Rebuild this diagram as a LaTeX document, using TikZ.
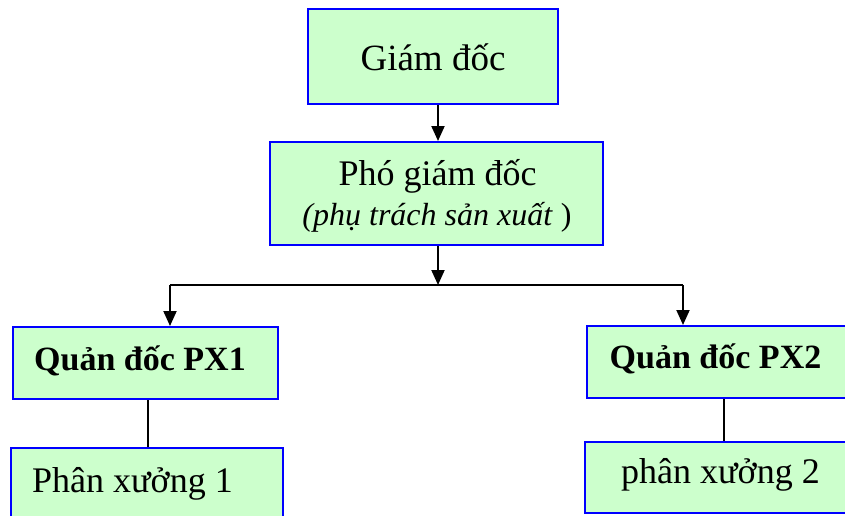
\documentclass[tikz,border=0pt]{standalone}
\usepackage{fontspec}
\setmainfont{Liberation Serif}
\usetikzlibrary{arrows.meta}
\definecolor{boxfill}{HTML}{CCFFCC}
\definecolor{boxline}{HTML}{0000FF}
\begin{document}
\begin{tikzpicture}[x=1pt,y=-1pt,
  orgbox/.style={draw=boxline,fill=boxfill,line width=2pt,rectangle,inner sep=0pt},
  lbl/.style={inner sep=0pt,anchor=base},
  conn/.style={line width=2pt,black},
  arr/.style={conn,-{Triangle[length=15pt,width=13pt]}}]
\useasboundingbox (0,0) rectangle (845,515);
% boxes
\node[orgbox,minimum width=250pt,minimum height=95pt] (gd) at (433,56.5) {};
\node[orgbox,minimum width=333pt,minimum height=103pt] (pgd) at (436.5,193.5) {};
\node[orgbox,minimum width=265pt,minimum height=72pt] (q1) at (145.5,363) {};
\node[orgbox,minimum width=272pt,minimum height=80pt] (px1) at (147,488) {};
\node[orgbox,minimum width=268pt,minimum height=72pt] (q2) at (721,362) {};
\node[orgbox,minimum width=270pt,minimum height=71pt] (px2) at (720,477.5) {};
% texts
\node[lbl,font=\fontsize{37}{40}\selectfont] (gdt) at (433,70) {Giám đốc};
\node[lbl,font=\fontsize{36}{40}\selectfont] (pgdt) at (437.5,185) {Phó giám đốc};
\node[lbl,font=\fontsize{32}{36}\selectfont] (pgds) at (437,225) {\textit{(phụ trách sản xuất }{)}};
\node[lbl,font=\fontsize{34}{38}\selectfont\bfseries] (q1t) at (140,370) {Quản đốc PX1};
\node[lbl,anchor=base west,font=\fontsize{36}{40}\selectfont] (px1t) at (32,492) {Phân xưởng 1};
\node[lbl,font=\fontsize{34}{38}\selectfont\bfseries] (q2t) at (715.5,368) {Quản đốc PX2};
\node[lbl,font=\fontsize{36}{40}\selectfont] (px2t) at (720.5,483) {phân xưởng 2};
% connectors
\coordinate (bus) at (438,285);
\coordinate (b1) at (170,285);
\coordinate (b2) at (683,285);
\coordinate (v1) at (148,0);
\coordinate (v2) at (724,0);
\draw[arr] (gd.south -| bus) -- (pgd.north -| bus);
\draw[arr] (pgd.south -| bus) -- (bus);
\draw[conn] (b1) -- (b2);
\draw[arr] (b1) -- (b1 |- q1.north);
\draw[arr] (b2) -- (b2 |- q2.north);
\draw[conn] (q1.south -| v1) -- (px1.north -| v1);
\draw[conn] (q2.south -| v2) -- (px2.north -| v2);
\end{tikzpicture}
\end{document}
